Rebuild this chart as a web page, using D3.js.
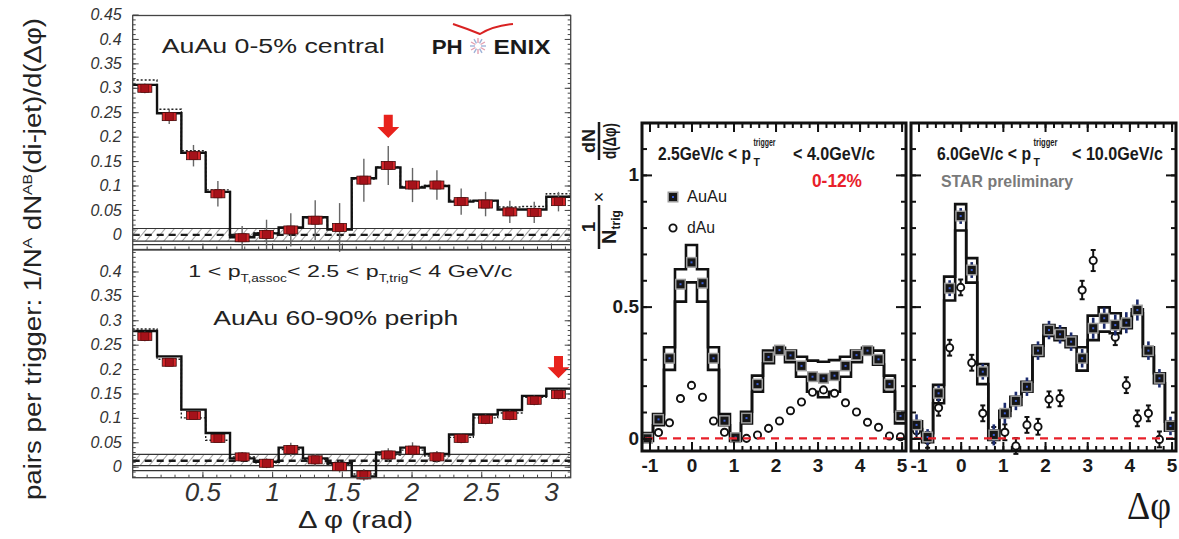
<!DOCTYPE html>
<html><head><meta charset="utf-8">
<script src="https://cdn.jsdelivr.net/npm/d3@7"></script>
<style>body{margin:0;background:#fff}</style>
</head><body>
<svg id="c" width="1179" height="539"></svg>
<script>
// ================= DATA =================
// PHENIX (left): 18 bins over [0, pi]
const phCenters = [0.087,0.262,0.436,0.611,0.785,0.960,1.134,1.309,1.484,1.658,1.833,2.007,2.182,2.356,2.531,2.705,2.880,3.054];
const phBinW = 0.1745;
const centralVals = [0.299,0.241,0.161,0.083,-0.007,0.000,0.009,0.029,0.014,0.111,0.141,0.101,0.101,0.067,0.062,0.046,0.045,0.067];
const centralErr  = [0.010,0.015,0.022,0.026,0.024,0.030,0.034,0.041,0.050,0.044,0.040,0.035,0.030,0.027,0.025,0.023,0.022,0.020];
const centralHist = [0.306,0.248,0.167,0.087,-0.006,0.002,0.014,0.035,0.010,0.115,0.137,0.096,0.099,0.067,0.069,0.051,0.051,0.077];
const centralDot  = [0.316,0.256,0.171,0.091,-0.004,0.003,0.013,0.034,0.011,0.113,0.138,0.098,0.100,0.070,0.068,0.056,0.057,0.083];
const periphVals  = [0.267,0.214,0.105,0.058,0.020,0.007,0.035,0.014,0.000,-0.017,0.024,0.034,0.020,0.058,0.097,0.105,0.136,0.148];
const periphErr   = [0.010,0.008,0.008,0.008,0.010,0.010,0.014,0.012,0.012,0.012,0.014,0.016,0.012,0.010,0.010,0.010,0.010,0.010];
const periphHist  = [0.278,0.226,0.117,0.069,0.017,0.010,0.039,0.017,0.007,-0.020,0.029,0.039,0.026,0.066,0.107,0.116,0.145,0.160];
const periphDot   = [0.282,0.220,0.100,0.054,0.020,0.008,0.035,0.015,0.005,-0.015,0.024,0.034,0.022,0.060,0.100,0.110,0.142,0.160];
const centralBand = [0.012,-0.014,-0.001,-0.021];   // top, bottom, dashed, extra line
const periphBand  = [0.025,0.002,0.012,-0.008];
const centralArrow = {x:1.833, tip:0.197, tail:0.245};
const periphArrow  = {x:3.054, tip:0.181, tail:0.227};
const phYTicksTop = [0,0.05,0.1,0.15,0.2,0.25,0.3,0.35,0.4,0.45];
const phYTicksBot = [0,0.05,0.1,0.15,0.2,0.25,0.3,0.35,0.4];
const phXTicks = [0.5,1,1.5,2,2.5,3];

// STAR (right): 24 bins of pi/12
const stCenters = [-1.047,-0.785,-0.524,-0.262,0,0.262,0.524,0.785,1.047,1.309,1.571,1.833,2.094,2.356,2.618,2.880,3.142,3.403,3.665,3.927,4.189,4.451,4.712,4.974];
const stBinW = 0.2618;
const aAu   = [0.000,0.072,0.304,0.585,0.668,0.589,0.304,0.067,0.003,0.077,0.206,0.309,0.335,0.315,0.275,0.234,0.228,0.238,0.275,0.316,0.333,0.300,0.206,0.085];
const aAuHi = [0.020,0.092,0.346,0.642,0.734,0.642,0.346,0.092,0.015,0.101,0.238,0.333,0.344,0.333,0.310,0.295,0.291,0.297,0.310,0.333,0.344,0.333,0.238,0.101];
const aAuLo = [-0.010,0.050,0.260,0.519,0.592,0.519,0.260,0.050,-0.010,0.057,0.177,0.285,0.323,0.289,0.234,0.177,0.156,0.177,0.234,0.289,0.323,0.280,0.177,0.057];
const adAu  = [0.003,0.022,0.059,0.151,0.201,0.156,0.066,0.023,0.003,0.000,0.013,0.038,0.066,0.105,0.138,0.175,0.184,0.171,0.135,0.100,0.061,0.042,0.009,0.006];
const bAu    = [0.051,0.005,0.171,0.570,0.844,0.639,0.253,0.013,0.095,0.142,0.196,0.333,0.411,0.395,0.367,0.304,0.418,0.456,0.430,0.439,0.487,0.333,0.228,0.047];
const bAuErr = [0.040,0.030,0.030,0.030,0.030,0.030,0.030,0.040,0.040,0.035,0.035,0.035,0.035,0.035,0.035,0.035,0.040,0.040,0.040,0.040,0.040,0.035,0.035,0.035];
const bAuHi  = [0.065,0.020,0.203,0.614,0.889,0.684,0.282,0.030,0.105,0.158,0.215,0.352,0.430,0.418,0.386,0.346,0.466,0.497,0.475,0.452,0.490,0.346,0.247,0.063];
const bAuLo  = [0.035,-0.015,0.133,0.523,0.789,0.591,0.206,-0.006,0.085,0.127,0.177,0.313,0.389,0.373,0.346,0.257,0.373,0.405,0.399,0.418,0.475,0.313,0.209,0.029];
const bdAu    = [0.029,-0.006,0.116,0.344,0.573,0.287,0.095,0.013,0.023,-0.029,0.051,0.044,0.148,0.152,null,0.563,0.675,null,0.384,0.202,0.076,0.095,-0.004,null];
const bdAuErr = [0.030,0.030,0.030,0.030,0.030,0.030,0.030,0.030,0.030,0.030,0.030,0.030,0.030,0.030,0.030,0.035,0.040,0.030,0.030,0.030,0.030,0.030,0.030,0.030];
const stYTicks = [0,0.5,1];
const stXTicks = [-1,0,1,2,3,4,5];

// ================= DRAW =================
const svg = d3.select("#c");
const FS = "'Liberation Sans', Arial, sans-serif";
const FSN = "'Liberation Sans Narrow','Liberation Sans', Arial, sans-serif";
const defs = svg.append("defs");
const pat = defs.append("pattern").attr("id","hatch").attr("width",7).attr("height",7)
  .attr("patternUnits","userSpaceOnUse").attr("patternTransform","rotate(40)");
pat.append("line").attr("x1",0).attr("y1",0).attr("x2",0).attr("y2",7).attr("stroke","#555").attr("stroke-width",1.1);

// ---------- PHENIX ----------
const phX = d3.scaleLinear().domain([0, Math.PI]).range([132.7, 570.7]);
const phYTop = d3.scaleLinear().domain([-0.031, 0.448]).range([249.5, 15.5]);
const phYBot = d3.scaleLinear().domain([-0.0226, 0.444]).range([477.7, 250]);

function stepPts(centers, w, arr){
  const p=[]; arr.forEach((v,i)=>{p.push([centers[i]-w/2,v]);p.push([centers[i]+w/2,v]);}); return p;
}

function phPanel(yS, vals, err, hist, dot, band, yTicks, arrow, xLabels){
  const [xl,xr] = phX.range(); const [yb,yt] = yS.range();
  const g = svg.append("g");
  g.append("rect").attr("x",xl).attr("width",xr-xl).attr("y",yS(band[0])).attr("height",yS(band[1])-yS(band[0])).attr("fill","url(#hatch)");
  [band[0],band[1],band[3]].forEach(v=>g.append("line").attr("x1",xl).attr("x2",xr).attr("y1",yS(v)).attr("y2",yS(v)).attr("stroke","#333").attr("stroke-width",1.2));
  g.append("line").attr("x1",xl).attr("x2",xr).attr("y1",yS(band[2])).attr("y2",yS(band[2]))
    .attr("stroke","#1a1a1a").attr("stroke-width",2.4).attr("stroke-dasharray","7,5");
  const line = d3.line().x(d=>phX(d[0])).y(d=>yS(d[1]));
  g.append("path").attr("d",line(stepPts(phCenters,phBinW,dot))).attr("fill","none").attr("stroke","#222").attr("stroke-width",1.4).attr("stroke-dasharray","2,2");
  g.append("path").attr("d",line(stepPts(phCenters,phBinW,hist))).attr("fill","none").attr("stroke","#111").attr("stroke-width",2.4);
  g.selectAll(".eb").data(vals).join("line").attr("x1",(d,i)=>phX(phCenters[i])).attr("x2",(d,i)=>phX(phCenters[i]))
    .attr("y1",(d,i)=>yS(d-err[i])).attr("y2",(d,i)=>yS(d+err[i])).attr("stroke","#666").attr("stroke-width",1.4);
  g.selectAll(".sb").data(vals).join("rect").attr("x",(d,i)=>phX(phCenters[i])-7).attr("y",d=>yS(d)-4)
    .attr("width",14).attr("height",8).attr("fill","#d8262a").attr("stroke","#3a1010").attr("stroke-width",0.8);
  g.selectAll(".mk").data(vals).join("rect").attr("x",(d,i)=>phX(phCenters[i])-4).attr("y",d=>yS(d)-4)
    .attr("width",8).attr("height",8).attr("fill","#a5121a").attr("stroke","#5a0a0a").attr("stroke-width",0.6);
  // arrow
  const ax = phX(arrow.x), ytip = yS(arrow.tip), ytail = yS(arrow.tail), hl = 11;
  g.append("path").attr("d",`M${ax-4.5},${ytail}L${ax+4.5},${ytail}L${ax+4.5},${ytip-hl}L${ax+11},${ytip-hl}L${ax},${ytip}L${ax-11},${ytip-hl}L${ax-4.5},${ytip-hl}Z`)
    .attr("fill","#e8221c");
  // frame
  g.append("rect").attr("x",xl).attr("y",yt).attr("width",xr-xl).attr("height",yb-yt).attr("fill","none").attr("stroke","#444").attr("stroke-width",1.3);
  // axes
  const d = yS.domain();
  const yMinor = d3.range(-0.03,0.45,0.01).map(v=>+v.toFixed(2)).filter(v=>v>d[0]&&v<d[1]);
  const style = sel=>{sel.select(".domain").remove(); sel.selectAll("line").attr("stroke","#444").attr("stroke-width",1);};
  g.append("g").attr("transform",`translate(${xl},0)`).call(d3.axisLeft(yS).tickValues(yMinor).tickSize(-3).tickFormat("")).call(style);
  g.append("g").attr("transform",`translate(${xr},0)`).call(d3.axisRight(yS).tickValues(yMinor).tickSize(-3).tickFormat("")).call(style);
  g.append("g").attr("transform",`translate(${xr},0)`).call(d3.axisRight(yS).tickValues(yTicks).tickSize(-6).tickFormat("")).call(style);
  const yl = g.append("g").attr("transform",`translate(${xl},0)`).call(d3.axisLeft(yS).tickValues(yTicks).tickSize(-6).tickPadding(11).tickFormat(v=>String(v))).call(style);
  yl.selectAll("text").attr("font-family",FS).attr("font-style","italic").attr("font-size",16).attr("fill","#333");
  const xMinor = d3.range(0.1,3.15,0.1).map(v=>+v.toFixed(1));
  g.append("g").attr("transform",`translate(0,${yb})`).call(d3.axisBottom(phX).tickValues(xMinor).tickSize(-3).tickFormat("")).call(style);
  const xa = g.append("g").attr("transform",`translate(0,${yb})`).call(d3.axisBottom(phX).tickValues(phXTicks).tickSize(-6).tickPadding(5).tickFormat(v=>xLabels?String(v):"")).call(style);
  xa.selectAll("text").attr("font-family",FS).attr("font-style","italic").attr("font-size",26).attr("fill","#333");
  return g;
}
phPanel(phYTop, centralVals, centralErr, centralHist, centralDot, centralBand, phYTicksTop, centralArrow, false);
phPanel(phYBot, periphVals, periphErr, periphHist, periphDot, periphBand, phYTicksBot, periphArrow, true);

// PHENIX texts
svg.append("text").attr("x",161.7).attr("y",53.3).attr("font-family",FS).attr("font-size",20).attr("fill","#222")
  .attr("textLength",223).attr("lengthAdjust","spacingAndGlyphs").text("AuAu 0-5% central");
svg.append("text").attr("x",213.3).attr("y",325).attr("font-family",FS).attr("font-size",20).attr("fill","#222")
  .attr("textLength",245).attr("lengthAdjust","spacingAndGlyphs").text("AuAu 60-90% periph");
const ptt = svg.append("text").attr("x",188.3).attr("y",276.7).attr("font-family",FS).attr("font-size",17).attr("fill","#222")
  .attr("textLength",324).attr("lengthAdjust","spacingAndGlyphs");
ptt.append("tspan").text("1 < p");
ptt.append("tspan").attr("font-size",10).attr("dy",5).text("T,assoc");
ptt.append("tspan").attr("dy",-5).text("< 2.5 < p");
ptt.append("tspan").attr("font-size",10).attr("dy",5).text("T,trig");
ptt.append("tspan").attr("dy",-5).text("< 4 GeV/c");
// PHENIX logo
svg.append("text").attr("x",431.7).attr("y",54).attr("font-family",FS).attr("font-weight","bold").attr("font-size",21).attr("fill","#1a1a1a")
  .attr("textLength",31).attr("lengthAdjust","spacingAndGlyphs").text("PH");
svg.append("text").attr("x",493.5).attr("y",54).attr("font-family",FS).attr("font-weight","bold").attr("font-size",21).attr("fill","#1a1a1a")
  .attr("textLength",57).attr("lengthAdjust","spacingAndGlyphs").text("ENIX");
const star = svg.append("g").attr("transform","translate(478,46)");
d3.range(0,360,30).forEach(a=>{const r=a*Math.PI/180;
  star.append("line").attr("x1",3*Math.cos(r)).attr("y1",3*Math.sin(r)).attr("x2",8*Math.cos(r)).attr("y2",8*Math.sin(r))
   .attr("stroke",a%60?"#e4a0b0":"#9fb4d8").attr("stroke-width",1.4);});
svg.append("path").attr("d","M453,24 Q468,29 480,34 Q493,26 513,24").attr("fill","none").attr("stroke","#d92222").attr("stroke-width",2);
// PHENIX axis titles
const yt = svg.append("text").attr("transform","translate(41,500) rotate(-90)").attr("font-family",FS).attr("font-size",23).attr("fill","#222")
  .attr("textLength",482).attr("lengthAdjust","spacingAndGlyphs");
yt.append("tspan").text("pairs per trigger: 1/N");
yt.append("tspan").attr("font-size",13).attr("dy",-9).text("A");
yt.append("tspan").attr("dy",9).text(" dN");
yt.append("tspan").attr("font-size",13).attr("dy",-9).text("AB");
yt.append("tspan").attr("dy",9).text("(di-jet)/d(Δφ)");
svg.append("text").attr("x",298).attr("y",528).attr("font-family",FS).attr("font-size",24).attr("fill","#222")
  .attr("textLength",115).attr("lengthAdjust","spacingAndGlyphs").text("Δ φ (rad)");

// ---------- STAR ----------
const stY = d3.scaleLinear().domain([-0.048, 1.197]).range([451, 123]);
const stXA = d3.scaleLinear().domain([-3*Math.PI/8, 13*Math.PI/8]).range([642, 906]);
const stXB = d3.scaleLinear().domain([-3*Math.PI/8, 13*Math.PI/8]).range([911, 1176]);

function auMarks(g, data, xS){
  g.selectAll(".a1").data(data).join("rect").attr("x",d=>xS(d.x)-5.5).attr("y",d=>stY(d.v)-5.5).attr("width",11).attr("height",11).attr("fill","#9a9a9a");
  g.selectAll(".a2").data(data).join("rect").attr("x",d=>xS(d.x)-4).attr("y",d=>stY(d.v)-4).attr("width",8).attr("height",8).attr("fill","#161616");
  g.selectAll(".a3").data(data).join("rect").attr("x",d=>xS(d.x)-1).attr("y",d=>stY(d.v)-1).attr("width",2).attr("height",2).attr("fill","#3a5cd0");
}

function starPanel(xS, au, hi, lo, auErr, dau, dauErr, showY){
  const [xl,xr] = xS.range(); const [yb,yt] = stY.range();
  const g = svg.append("g");
  const line = d3.line().x(d=>xS(d[0])).y(d=>stY(d[1]));
  g.append("path").attr("d",line(stepPts(stCenters,stBinW,hi))).attr("fill","none").attr("stroke","#111").attr("stroke-width",2.6);
  g.append("path").attr("d",line(stepPts(stCenters,stBinW,lo))).attr("fill","none").attr("stroke","#111").attr("stroke-width",2.6);
  // dAu
  const dd = dau.map((v,i)=>({x:stCenters[i],v,e:dauErr?dauErr[i]:0})).filter(d=>d.v!==null);
  if(dauErr){
    g.selectAll(".de").data(dd).join("line").attr("x1",d=>xS(d.x)).attr("x2",d=>xS(d.x)).attr("y1",d=>stY(d.v-d.e)).attr("y2",d=>stY(d.v+d.e)).attr("stroke","#111").attr("stroke-width",2);
    g.selectAll(".dc1").data(dd).join("line").attr("x1",d=>xS(d.x)-2.5).attr("x2",d=>xS(d.x)+2.5).attr("y1",d=>stY(d.v+d.e)).attr("y2",d=>stY(d.v+d.e)).attr("stroke","#111").attr("stroke-width",2);
    g.selectAll(".dc2").data(dd).join("line").attr("x1",d=>xS(d.x)-2.5).attr("x2",d=>xS(d.x)+2.5).attr("y1",d=>stY(d.v-d.e)).attr("y2",d=>stY(d.v-d.e)).attr("stroke","#111").attr("stroke-width",2);
  }
  g.selectAll(".dm").data(dd).join("circle").attr("cx",d=>xS(d.x)).attr("cy",d=>stY(d.v)).attr("r",3.6).attr("fill","#fff").attr("stroke","#111").attr("stroke-width",1.9);
  // AuAu
  const ad = au.map((v,i)=>({x:stCenters[i],v,e:auErr?auErr[i]:0}));
  if(auErr){
    g.selectAll(".ae").data(ad).join("line").attr("x1",d=>xS(d.x)).attr("x2",d=>xS(d.x)).attr("y1",d=>stY(d.v-d.e)).attr("y2",d=>stY(d.v+d.e)).attr("stroke","#1c2c6e").attr("stroke-width",2.6);
  }
  auMarks(g, ad, xS);
  // zero line
  g.append("line").attr("x1",xl+3).attr("x2",xr-3).attr("y1",stY(0)).attr("y2",stY(0)).attr("stroke","#e8202a").attr("stroke-width",2.4).attr("stroke-dasharray","8,6");
  // axes
  const style = sel=>{sel.select(".domain").remove(); sel.selectAll("line").attr("stroke","#111").attr("stroke-width",2);};
  const yMinor = d3.range(0,1.2,0.1).map(v=>+v.toFixed(1));
  const xMinor = d3.range(-1,5.05,0.2).map(v=>+v.toFixed(1));
  g.append("g").attr("transform",`translate(${xl},0)`).call(d3.axisLeft(stY).tickValues(yMinor).tickSize(-5).tickFormat("")).call(style);
  g.append("g").attr("transform",`translate(${xr},0)`).call(d3.axisRight(stY).tickValues(yMinor).tickSize(-5).tickFormat("")).call(style);
  g.append("g").attr("transform",`translate(${xr},0)`).call(d3.axisRight(stY).tickValues(stYTicks).tickSize(-10).tickFormat("")).call(style);
  const ya = g.append("g").attr("transform",`translate(${xl},0)`).call(d3.axisLeft(stY).tickValues(stYTicks).tickSize(-10).tickPadding(3).tickFormat(v=>showY?String(v):"")).call(style);
  ya.selectAll("text").attr("font-family",FSN).attr("font-weight","bold").attr("font-size",19).attr("fill","#1a1a1a");
  g.append("g").attr("transform",`translate(0,${yb})`).call(d3.axisBottom(xS).tickValues(xMinor).tickSize(-5).tickFormat("")).call(style);
  g.append("g").attr("transform",`translate(0,${yt})`).call(d3.axisTop(xS).tickValues(xMinor).tickSize(-5).tickFormat("")).call(style);
  g.append("g").attr("transform",`translate(0,${yt})`).call(d3.axisTop(xS).tickValues(stXTicks).tickSize(-9).tickFormat("")).call(style);
  const xa = g.append("g").attr("transform",`translate(0,${yb})`).call(d3.axisBottom(xS).tickValues(stXTicks).tickSize(-9).tickPadding(8).tickFormat(v=>String(v))).call(style);
  xa.selectAll("text").attr("font-family",FSN).attr("font-weight","bold").attr("font-size",19).attr("fill","#1a1a1a");
  g.append("rect").attr("x",xl).attr("y",yt).attr("width",xr-xl).attr("height",yb-yt).attr("fill","none").attr("stroke","#111").attr("stroke-width",3);
}
starPanel(stXA, aAu, aAuHi, aAuLo, null, adAu, null, true);
starPanel(stXB, bAu, bAuHi, bAuLo, bAuErr, bdAu, bdAuErr, false);

// STAR texts
function bt(x,y,s,len,size,fill){
  return svg.append("text").attr("x",x).attr("y",y).attr("font-family",FS).attr("font-weight","bold").attr("font-size",size)
    .attr("fill",fill||"#1a1a1a").attr("textLength",len).attr("lengthAdjust","spacingAndGlyphs").text(s);
}
function stacked(x, sup, supLen){
  bt(x,146,sup,supLen,10.5);
  svg.append("text").attr("x",x).attr("y",166).attr("font-family",FS).attr("font-weight","bold").attr("font-size",10.5).attr("fill","#1a1a1a").text("T");
}
bt(658,160,"2.5GeV/c < p",93,18); stacked(753.5,"trigger",22); bt(793,160,"< 4.0GeV/c",82,18);
bt(937,160,"6.0GeV/c < p",94,18); stacked(1033.5,"trigger",24); bt(1072,160,"< 10.0GeV/c",91,18);
bt(812,187,"0-12%",50,18,"#e8202a");
bt(941,187,"STAR preliminary",132,17,"#7a7a7a");
// legend
const lg = svg.append("g");
auMarks(lg, [{x:0,v:0}], v=>673+v*0);
lg.selectAll("rect").attr("transform",`translate(0,${197-stY(0)})`);
svg.append("circle").attr("cx",673).attr("cy",228).attr("r",3.6).attr("fill","#fff").attr("stroke","#111").attr("stroke-width",1.9);
svg.append("text").attr("x",687).attr("y",202).attr("font-family",FS).attr("font-size",16).attr("fill","#1a1a1a").attr("textLength",40).attr("lengthAdjust","spacingAndGlyphs").text("AuAu");
svg.append("text").attr("x",687).attr("y",233).attr("font-family",FS).attr("font-size",16).attr("fill","#1a1a1a").attr("textLength",28).attr("lengthAdjust","spacingAndGlyphs").text("dAu");
// STAR y title
const gT = svg.append("g").attr("transform","translate(599,250) rotate(-90)").attr("font-family",FS).attr("font-weight","bold").attr("fill","#1a1a1a");
gT.append("line").attr("x1",1).attr("x2",45).attr("y1",0).attr("y2",0).attr("stroke","#1a1a1a").attr("stroke-width",2.5);
gT.append("text").attr("x",23).attr("y",-4).attr("text-anchor","middle").attr("font-size",19).text("1");
const nt = gT.append("text").attr("x",23).attr("y",17).attr("text-anchor","middle").attr("font-size",20);
nt.append("tspan").text("N"); nt.append("tspan").attr("font-size",12).attr("dy",4).text("trig");
gT.append("text").attr("x",53).attr("y",6).attr("text-anchor","middle").attr("font-size",18).attr("font-weight","normal").text("×");
gT.append("line").attr("x1",90).attr("x2",128).attr("y1",0).attr("y2",0).attr("stroke","#1a1a1a").attr("stroke-width",2.5);
gT.append("text").attr("x",109).attr("y",-4).attr("text-anchor","middle").attr("font-size",19).attr("textLength",24).attr("lengthAdjust","spacingAndGlyphs").text("dN");
gT.append("text").attr("x",109).attr("y",17).attr("text-anchor","middle").attr("font-size",18).attr("textLength",36).attr("lengthAdjust","spacingAndGlyphs").text("d(Δφ)");
// Δφ
svg.append("text").attr("x",1127).attr("y",519).attr("font-family","'Liberation Serif','Times New Roman',serif").attr("font-size",40).attr("fill","#1a1a1a")
  .attr("textLength",44).attr("lengthAdjust","spacingAndGlyphs").text("Δφ");
</script>
</body></html>
